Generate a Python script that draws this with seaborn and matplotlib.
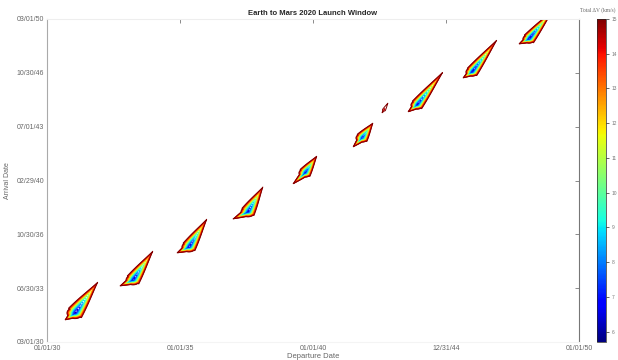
import numpy as np
import pandas as pd
import matplotlib
matplotlib.use("Agg")
import matplotlib.pyplot as plt
import matplotlib.dates as mdates
import seaborn as sns

# launch windows: core of the window, end of the tail, heel point
core_dep = ['2031-01-20', '2033-03-27', '2035-05-04', '2037-07-22', '2039-09-13',
            '2041-11-04', '2042-09-02', '2043-11-29', '2045-12-23', '2048-02-13']
core_arr = ['2031-12-17', '2034-01-02', '2036-01-17', '2038-03-20', '2040-08-17',
            '2042-10-18', '2044-07-12', '2044-11-02', '2046-11-18', '2048-12-04']
tip_dep = ['2031-12-01', '2033-12-26', '2036-01-06', '2038-02-13', '2040-02-24',
           '2042-04-04', '2042-10-27', '2044-11-20', '2046-12-01', '2049-01-09']
tip_arr = ['2033-11-17', '2035-10-19', '2037-10-12', '2039-10-06', '2041-09-06',
           '2043-09-22', '2044-12-18', '2046-11-18', '2048-11-12', '2050-09-20']
heel_dep = ['2030-09-05', '2032-09-29', '2034-11-20', '2036-12-29', '2039-04-01',
            '2041-07-04', '2042-08-05', '2043-07-28', '2045-08-22', '2047-09-29']
heel_arr = ['2031-07-12', '2033-08-19', '2035-09-04', '2037-10-12', '2039-12-12',
            '2042-03-28', '2044-05-06', '2044-05-29', '2046-07-06', '2048-08-13']
dv_min = [5.9, 6.1, 6.0, 6.3, 6.4, 6.5, 14.3, 6.3, 6.1, 6.0]
half_width = [8, 7, 7, 7, 6, 6, 1.5, 6, 6, 6]   # in screen-ish units

dv_top = 15.0
cb_min, cb_max = 5.7, 15.0
cb_ticks = [6, 7, 8, 9, 10, 11, 12, 13, 14, 15]

x_start, x_end = '2030-01-01', '2050-01-01'
y_start, y_end = '2030-03-01', '2050-03-01'

sns.set_style("white")
plt.rcParams['font.family'] = ['Liberation Sans', 'DejaVu Sans']


def dnum(lst):
    return mdates.date2num(pd.to_datetime(lst))


# scale days -> screen-ish units so the shapes keep their look
SX = 26.6 / 365.25
SY = 16.15 / 365.25


def lobe(X, Y, cx, cy, ex, ey, w):
    dx, dy = (X - cx) * SX, (Y - cy) * SY
    ax_, ay_ = (ex - cx) * SX, (ey - cy) * SY
    L = np.hypot(ax_, ay_)
    ux, uy = ax_ / L, ay_ / L
    s = (dx * ux + dy * uy) / L
    t = -dx * uy + dy * ux
    wid = w * np.clip(1 - s, 0.01, None) ** 0.7
    g_front = (t / wid) ** 2 + s ** 2
    g_back = (dx / w) ** 2 + (dy / (0.7 * w)) ** 2
    return np.where(s < 0, g_back, g_front)


xs = np.arange(dnum([x_start])[0], dnum([x_end])[0], 3.0)
ys = np.arange(dnum([y_start])[0], dnum([y_end])[0], 3.0)
X, Y = np.meshgrid(xs, ys)

cdx, cdy = dnum(core_dep), dnum(core_arr)
tdx, tdy = dnum(tip_dep), dnum(tip_arr)
hdx, hdy = dnum(heel_dep), dnum(heel_arr)

Z = np.full(X.shape, 30.0)
for i in range(len(core_dep)):
    g_tail = lobe(X, Y, cdx[i], cdy[i], tdx[i], tdy[i], half_width[i])
    g_heel = lobe(X, Y, cdx[i], cdy[i], hdx[i], hdy[i], half_width[i] * 0.6)
    g = np.minimum(g_tail, g_heel)
    Z = np.minimum(Z, dv_min[i] + (dv_top - dv_min[i]) * g ** 0.6)

cmap = matplotlib.colors.ListedColormap(sns.mpl_palette("jet", 256))
norm = matplotlib.colors.Normalize(cb_min, cb_max)
levels = np.arange(6.0, 15.01, 0.6)

fig = plt.figure(figsize=(6.18, 3.6), dpi=100)
ax = fig.add_axes([47 / 618, 18 / 360, 532 / 618, 323 / 360])
ax.contour(X, Y, Z, levels=levels, cmap=cmap, norm=norm, linewidths=0.7)

ax.set_xlim(dnum([x_start])[0], dnum([x_end])[0])
ax.set_ylim(dnum([y_start])[0], dnum([y_end])[0])
ax.set_xticks(np.linspace(dnum([x_start])[0], dnum([x_end])[0], 5))
ax.set_yticks(np.linspace(dnum([y_start])[0], dnum([y_end])[0], 7))
ax.xaxis.set_major_formatter(mdates.DateFormatter('%m/%d/%y'))
ax.yaxis.set_major_formatter(mdates.DateFormatter('%m/%d/%y'))
ax.tick_params(direction='in', length=3, width=0.6, colors='#777777',
               labelsize=5, labelcolor='#666666', top=True, right=True, pad=2)

ax.spines['left'].set_color('#aaaaaa')
ax.spines['right'].set_color('#777777')
ax.spines['top'].set_color('#eeeeee')
ax.spines['bottom'].set_color('#f4f4f4')
for sp in ax.spines.values():
    sp.set_linewidth(0.8)

ax.set_title('Earth to Mars 2020 Launch Window', fontsize=5.5, fontweight='bold', pad=3)
ax.set_xlabel('Departure Date', fontsize=5.5, color='#666666', labelpad=1)
ax.set_ylabel('Arrival Date', fontsize=5, color='#666666', labelpad=4)

cax = fig.add_axes([597 / 618, 18 / 360, 9 / 618, 323 / 360])
cb = matplotlib.colorbar.ColorbarBase(cax, cmap=cmap, norm=norm, ticks=cb_ticks)
cb.outline.set_linewidth(0.5)
cb.ax.tick_params(labelsize=3.5, labelcolor='#777777', length=2, width=0.5, pad=2)
fig.text(616 / 618, 1 - 10 / 360, 'Total ΔV (km/s)', fontsize=4, color='#666666',
         family=['Liberation Serif', 'DejaVu Serif'], ha='right', va='center')

fig.savefig('out.png', dpi=100)
